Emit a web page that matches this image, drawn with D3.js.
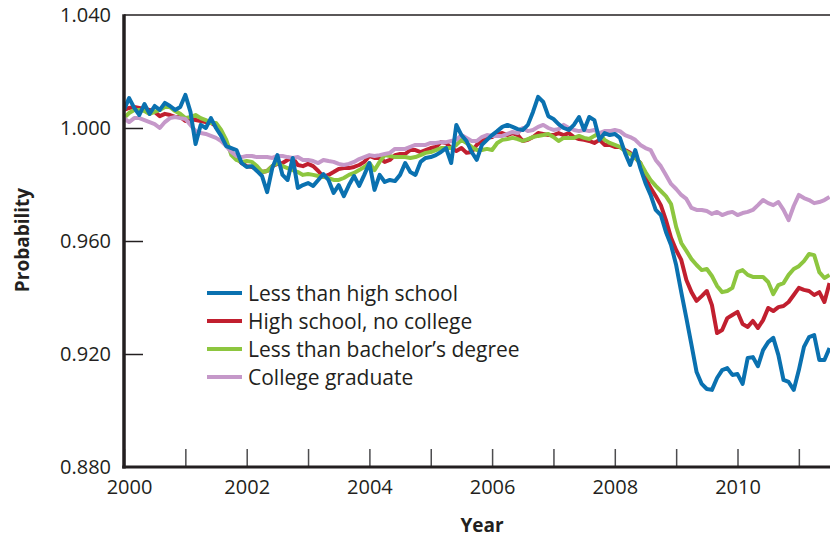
<!DOCTYPE html>
<html lang="en">
<head>
<meta charset="UTF-8">
<title>Probability by education</title>
<script src="https://d3js.org/d3.v7.min.js"></script>
<style>
    body { margin: 0; background: #fff; }
    svg { display: block; font-family: "Open Sans", "Noto Sans", sans-serif; }
</style>
</head>
<body>
<script>
    var width = 830;
    var height = 538;

    // monthly values, first month = Jan 2000
    var startYear = 2000;

    var lessThanHighSchool = [
        1.0064, 1.0106, 1.0071, 1.0046, 1.0085, 1.0050, 1.0078, 1.0064, 1.0089, 1.0078, 1.0064, 1.0074,
        1.0117, 1.0057, 0.9943, 1.0011, 1.0000, 1.0035, 1.0000, 0.9972, 0.9936, 0.9929, 0.9922, 0.9876,
        0.9862, 0.9865, 0.9848, 0.9830, 0.9773, 0.9858, 0.9904, 0.9834, 0.9816, 0.9894, 0.9788, 0.9798,
        0.9805, 0.9795, 0.9816, 0.9837, 0.9816, 0.9770, 0.9798, 0.9759, 0.9798, 0.9830, 0.9795, 0.9834,
        0.9876, 0.9781, 0.9834, 0.9809, 0.9816, 0.9812, 0.9834, 0.9876, 0.9844, 0.9834, 0.9880, 0.9894,
        0.9897, 0.9904, 0.9915, 0.9929, 0.9876, 1.0011, 0.9975, 0.9954, 0.9915, 0.9887, 0.9940, 0.9958,
        0.9975, 0.9989, 1.0004, 1.0011, 1.0004, 0.9996, 0.9993, 1.0011, 1.0057, 1.0110, 1.0092, 1.0042,
        1.0032, 1.0014, 1.0000, 0.9993, 1.0011, 1.0039, 0.9993, 1.0039, 1.0028, 0.9958, 0.9982, 0.9975,
        0.9979, 0.9965, 0.9912, 0.9869, 0.9922, 0.9858, 0.9805, 0.9763, 0.9710, 0.9692, 0.9632, 0.9586,
        0.9515, 0.9419, 0.9327, 0.9232, 0.9136, 0.9094, 0.9076, 0.9073, 0.9115, 0.9143, 0.9150, 0.9126,
        0.9129, 0.9094, 0.9186, 0.9189, 0.9157, 0.9214, 0.9242, 0.9257, 0.9196, 0.9108, 0.9101, 0.9073,
        0.9143, 0.9225, 0.9260, 0.9267, 0.9179, 0.9179, 0.9221
    ];

    var highSchoolNoCollege = [
        1.0064, 1.0071, 1.0074, 1.0071, 1.0067, 1.0064, 1.0057, 1.0042, 1.0050, 1.0046, 1.0039, 1.0039,
        1.0025, 1.0035, 1.0028, 1.0025, 1.0021, 1.0018, 1.0007, 0.9982, 0.9947, 0.9915, 0.9894, 0.9876,
        0.9865, 0.9862, 0.9855, 0.9844, 0.9848, 0.9865, 0.9873, 0.9876, 0.9887, 0.9894, 0.9869, 0.9865,
        0.9873, 0.9865, 0.9848, 0.9827, 0.9834, 0.9844, 0.9855, 0.9858, 0.9858, 0.9862, 0.9869, 0.9880,
        0.9901, 0.9894, 0.9894, 0.9880, 0.9887, 0.9904, 0.9908, 0.9908, 0.9922, 0.9922, 0.9915, 0.9922,
        0.9929, 0.9933, 0.9950, 0.9947, 0.9929, 0.9919, 0.9929, 0.9912, 0.9915, 0.9940, 0.9954, 0.9965,
        0.9968, 0.9979, 0.9982, 0.9975, 0.9982, 0.9975, 0.9954, 0.9958, 0.9968, 0.9982, 0.9979, 0.9975,
        0.9975, 0.9982, 0.9975, 0.9982, 0.9968, 0.9961, 0.9958, 0.9954, 0.9947, 0.9958, 0.9940, 0.9940,
        0.9933, 0.9933, 0.9922, 0.9912, 0.9894, 0.9876, 0.9823, 0.9788, 0.9759, 0.9727, 0.9674, 0.9611,
        0.9568, 0.9533, 0.9462, 0.9419, 0.9388, 0.9405, 0.9423, 0.9373, 0.9274, 0.9285, 0.9327, 0.9338,
        0.9349, 0.9306, 0.9296, 0.9317, 0.9292, 0.9320, 0.9363, 0.9352, 0.9366, 0.9370, 0.9384, 0.9409,
        0.9434, 0.9427, 0.9423, 0.9409, 0.9419, 0.9384, 0.9451
    ];

    var lessThanBachelors = [
        1.0035, 1.0053, 1.0064, 1.0064, 1.0060, 1.0050, 1.0057, 1.0064, 1.0074, 1.0074, 1.0060, 1.0050,
        1.0035, 1.0039, 1.0046, 1.0035, 1.0028, 1.0018, 1.0018, 0.9993, 0.9958, 0.9904, 0.9887, 0.9880,
        0.9883, 0.9880, 0.9865, 0.9844, 0.9848, 0.9865, 0.9876, 0.9865, 0.9858, 0.9851, 0.9844, 0.9834,
        0.9837, 0.9834, 0.9830, 0.9827, 0.9823, 0.9816, 0.9816, 0.9823, 0.9834, 0.9841, 0.9851, 0.9862,
        0.9876, 0.9851, 0.9880, 0.9904, 0.9901, 0.9897, 0.9897, 0.9897, 0.9894, 0.9897, 0.9904, 0.9912,
        0.9915, 0.9922, 0.9929, 0.9929, 0.9929, 0.9940, 0.9958, 0.9947, 0.9933, 0.9922, 0.9922, 0.9926,
        0.9922, 0.9947, 0.9958, 0.9961, 0.9965, 0.9961, 0.9954, 0.9961, 0.9968, 0.9972, 0.9975, 0.9979,
        0.9968, 0.9954, 0.9965, 0.9965, 0.9965, 0.9972, 0.9965, 0.9961, 0.9972, 0.9982, 0.9958, 0.9947,
        0.9940, 0.9933, 0.9919, 0.9908, 0.9894, 0.9876, 0.9844, 0.9816, 0.9795, 0.9777, 0.9759, 0.9731,
        0.9650, 0.9593, 0.9565, 0.9536, 0.9515, 0.9497, 0.9501, 0.9476, 0.9441, 0.9419, 0.9423, 0.9434,
        0.9490, 0.9497, 0.9480, 0.9473, 0.9473, 0.9473, 0.9455, 0.9412, 0.9444, 0.9451, 0.9480, 0.9501,
        0.9511, 0.9529, 0.9554, 0.9550, 0.9490, 0.9469, 0.9480
    ];

    var collegeGraduate = [
        1.0035, 1.0021, 1.0035, 1.0035, 1.0028, 1.0021, 1.0014, 1.0000, 1.0021, 1.0035, 1.0039, 1.0035,
        1.0032, 1.0011, 0.9989, 0.9982, 0.9979, 0.9972, 0.9965, 0.9954, 0.9936, 0.9915, 0.9901, 0.9897,
        0.9901, 0.9901, 0.9897, 0.9897, 0.9897, 0.9894, 0.9901, 0.9901, 0.9897, 0.9894, 0.9897, 0.9887,
        0.9887, 0.9883, 0.9876, 0.9887, 0.9883, 0.9880, 0.9873, 0.9869, 0.9873, 0.9880, 0.9890, 0.9897,
        0.9904, 0.9901, 0.9904, 0.9908, 0.9912, 0.9926, 0.9926, 0.9926, 0.9933, 0.9940, 0.9940, 0.9940,
        0.9947, 0.9947, 0.9950, 0.9950, 0.9954, 0.9958, 0.9975, 0.9965, 0.9954, 0.9954, 0.9968, 0.9975,
        0.9972, 0.9972, 0.9972, 0.9979, 0.9986, 0.9982, 1.0000, 0.9989, 0.9993, 1.0004, 1.0011, 1.0000,
        0.9993, 0.9996, 1.0011, 1.0000, 0.9993, 0.9989, 0.9993, 0.9989, 0.9993, 0.9982, 0.9989, 0.9989,
        0.9993, 0.9989, 0.9975, 0.9968, 0.9958, 0.9940, 0.9929, 0.9922, 0.9887, 0.9865, 0.9834, 0.9802,
        0.9784, 0.9763, 0.9749, 0.9717, 0.9710, 0.9710, 0.9706, 0.9696, 0.9703, 0.9692, 0.9699, 0.9703,
        0.9692, 0.9699, 0.9703, 0.9710, 0.9727, 0.9745, 0.9734, 0.9727, 0.9738, 0.9710, 0.9674, 0.9724,
        0.9763, 0.9752, 0.9745, 0.9734, 0.9738, 0.9745, 0.9756
    ];

    var seriesNames = ["Less than high school", "High school, no college", "Less than bachelor\u2019s degree", "College graduate"];
    var seriesValues = [lessThanHighSchool, highSchoolNoCollege, lessThanBachelors, collegeGraduate];
    var seriesColors = ["#0a71b0", "#c11f2f", "#8dc63f", "#c598c9"];

    var yTickValues = [0.880, 0.920, 0.960, 1.000, 1.040];
    var xTickValues = [2000, 2001, 2002, 2003, 2004, 2005, 2006, 2007, 2008, 2009, 2010, 2011];

    var ink = "#231f20";
    var fontStack = '"Open Sans", "Noto Sans", sans-serif';
    var plotLeft = 124, plotTop = 15, plotBottom = 467;

    var x = d3.scaleLinear().domain([2000, 2012]).range([plotLeft, plotLeft + 12 * 61.35]);
    var y = d3.scaleLinear().domain([0.880, 1.040]).range([plotBottom, plotTop]);

    var svg = d3.select("body").append("svg")
        .attr("width", width)
        .attr("height", height);

    svg.append("defs").append("clipPath").attr("id", "plot")
        .append("rect")
        .attr("x", plotLeft).attr("y", plotTop)
        .attr("width", width - plotLeft).attr("height", plotBottom - plotTop);

    // top frame line
    svg.append("line")
        .attr("x1", plotLeft).attr("x2", width)
        .attr("y1", plotTop).attr("y2", plotTop)
        .attr("stroke", ink).attr("stroke-width", 1.5);

    // y axis: ticks point into the plot
    var yAxis = svg.append("g")
        .attr("transform", "translate(" + plotLeft + ",0)")
        .call(d3.axisLeft(y).tickValues(yTickValues).tickFormat(d3.format(".3f"))
            .tickSize(-19).tickPadding(13));
    yAxis.attr("font-family", fontStack).attr("font-size", 20);
    yAxis.select(".domain").remove();
    yAxis.selectAll(".tick line")
        .attr("stroke", ink).attr("stroke-width", 1.5)
        .attr("display", function (d) { return d === 0.880 || d === 1.040 ? "none" : null; });
    yAxis.selectAll(".tick text").attr("fill", ink);

    // x axis: every year ticked, every other year labelled
    var xAxis = svg.append("g")
        .attr("transform", "translate(0," + plotBottom + ")")
        .call(d3.axisBottom(x).tickValues(xTickValues)
            .tickFormat(function (d) { return d % 2 === 0 ? d : ""; })
            .tickSize(-18).tickPadding(13));
    xAxis.attr("font-family", fontStack).attr("font-size", 20);
    xAxis.select(".domain").remove();
    xAxis.selectAll(".tick line")
        .attr("stroke", "#4d4d4f").attr("stroke-width", 1.5);
    xAxis.selectAll(".tick text")
        .attr("fill", ink)
        .attr("dx", function (d) { return d === 2000 ? 5 : 0; });

    var line = d3.line()
        .x(function (d, i) { return x(startYear + i / 12); })
        .y(function (d) { return y(d); });

    var lines = svg.append("g").attr("clip-path", "url(#plot)");
    [1, 2, 3, 0].forEach(function (k) {
        lines.append("path")
            .datum(seriesValues[k])
            .attr("d", line)
            .attr("fill", "none")
            .attr("stroke", seriesColors[k])
            .attr("stroke-width", 4)
            .attr("stroke-linejoin", "round");
    });

    // axis lines on top of the data
    svg.append("line")
        .attr("x1", plotLeft).attr("x2", plotLeft)
        .attr("y1", plotTop - 0.75).attr("y2", plotBottom + 1.5)
        .attr("stroke", ink).attr("stroke-width", 3.5);
    svg.append("line")
        .attr("x1", plotLeft - 1.75).attr("x2", width)
        .attr("y1", plotBottom).attr("y2", plotBottom)
        .attr("stroke", ink).attr("stroke-width", 3);

    // legend
    var legend = svg.append("g").attr("transform", "translate(207,293)");
    seriesNames.forEach(function (name, i) {
        var row = legend.append("g").attr("transform", "translate(0," + (i * 28) + ")");
        row.append("line")
            .attr("x1", 0).attr("x2", 35)
            .attr("stroke", seriesColors[i]).attr("stroke-width", 4);
        row.append("text")
            .attr("x", 41).attr("y", 8)
            .attr("fill", ink)
            .style("font-size", "21px")
            .text(name);
    });

    // axis titles
    svg.append("text")
        .attr("x", 482).attr("y", 532)
        .attr("text-anchor", "middle")
        .attr("fill", ink)
        .style("font-size", "19px").style("font-weight", "bold")
        .text("Year");
    svg.append("text")
        .attr("transform", "translate(29,240) rotate(-90)")
        .attr("text-anchor", "middle")
        .attr("fill", ink)
        .style("font-size", "19px").style("font-weight", "bold")
        .text("Probability");
</script>
</body>
</html>
